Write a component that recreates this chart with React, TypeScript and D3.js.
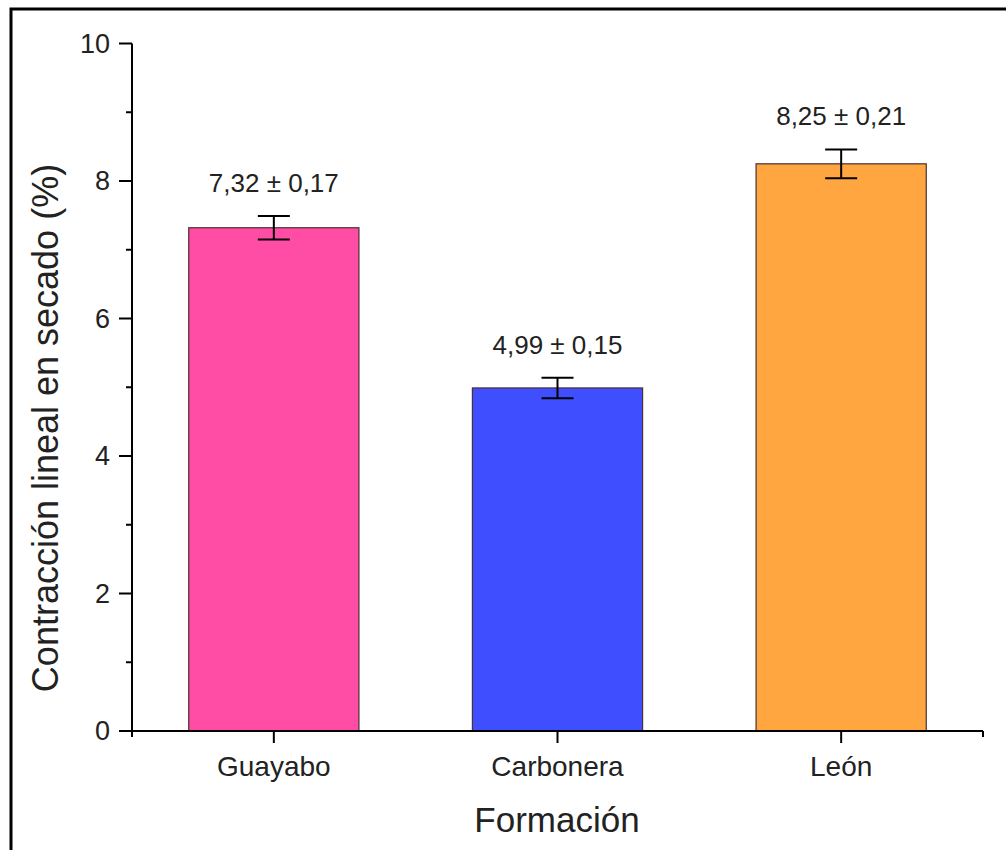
import React from "react";
import * as d3 from "d3";

const categories = ["Guayabo", "Carbonera", "León"];
const values = [7.32, 4.99, 8.25];
const errors = [0.17, 0.15, 0.21];
const labels = ["7,32 ± 0,17", "4,99 ± 0,15", "8,25 ± 0,21"];
const colors = ["#FF4DA6", "#3F4FFF", "#FFA640"];
const yMajorTicks = [0, 2, 4, 6, 8, 10];
const yMinorTicks = [1, 3, 5, 7, 9];

const W = 1006;
const H = 850;
const FONT = "'Liberation Sans', Arial, Helvetica, sans-serif";

export default function App() {
  const x0 = 132, x1 = 983, yTop = 43.5, yBot = 731;
  const x = d3.scaleLinear().domain([0.5, 3.5]).range([x0, x1]);
  const y = d3.scaleLinear().domain([0, 10]).range([yBot, yTop]);
  const barW = x(1.6) - x(1);
  return (
    <svg width={W} height={H} style={{ position: "absolute", left: 0, top: 0, background: "#fff" }} fontFamily={FONT}>
      <rect x={11} y={9} width={1100} height={1000} fill="none" stroke="#000" strokeWidth={3} />
      {categories.map((c, i) => {
        const cx = x(i + 1);
        return (
          <g key={c}>
            <rect x={cx - barW / 2} y={y(values[i])} width={barW} height={y(0) - y(values[i])} fill={colors[i]} stroke="#4a3030" strokeWidth={1.2} />
            <line x1={cx} x2={cx} y1={y(values[i] + errors[i])} y2={y(values[i] - errors[i])} stroke="#000" strokeWidth={2} />
            <line x1={cx - 16} x2={cx + 16} y1={y(values[i] + errors[i])} y2={y(values[i] + errors[i])} stroke="#000" strokeWidth={2} />
            <line x1={cx - 16} x2={cx + 16} y1={y(values[i] - errors[i])} y2={y(values[i] - errors[i])} stroke="#000" strokeWidth={2} />
            <text x={cx} y={y(values[i] + errors[i]) - 24} textAnchor="middle" fontSize={26} fill="#222">{labels[i]}</text>
            <line x1={cx} x2={cx} y1={yBot} y2={yBot + 12} stroke="#000" strokeWidth={2} />
            <text x={cx} y={776} textAnchor="middle" fontSize={28} fill="#222">{c}</text>
          </g>
        );
      })}
      <line x1={x0} x2={x0} y1={yTop} y2={yBot + 1} stroke="#000" strokeWidth={2} />
      <line x1={x0 - 1} x2={x1} y1={yBot} y2={yBot} stroke="#000" strokeWidth={2} />
      {[0.5, 3.5].map((v) => (
        <line key={v} x1={x(v)} x2={x(v)} y1={yBot} y2={yBot + 6} stroke="#000" strokeWidth={2} />
      ))}
      {yMajorTicks.map((t) => (
        <g key={t}>
          <line x1={x0 - 13} x2={x0} y1={y(t)} y2={y(t)} stroke="#000" strokeWidth={2} />
          <text x={110} y={y(t)} dy="0.35em" textAnchor="end" fontSize={27} fill="#222">{t}</text>
        </g>
      ))}
      {yMinorTicks.map((t) => (
        <line key={t} x1={x0 - 6} x2={x0} y1={y(t)} y2={y(t)} stroke="#000" strokeWidth={2} />
      ))}
      <text x={557} y={832} textAnchor="middle" fontSize={35} fill="#222">Formación</text>
      <text transform={`translate(58, 428) rotate(-90)`} textAnchor="middle" fontSize={36} fill="#222">Contracción lineal en secado (%)</text>
    </svg>
  );
}
